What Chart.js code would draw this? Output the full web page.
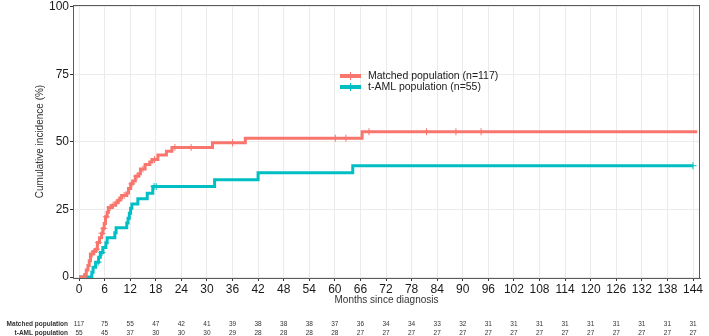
<!DOCTYPE html>
<html>
<head>
<meta charset="utf-8">
<script src="https://cdn.jsdelivr.net/npm/chart.js@4.4.1/dist/chart.umd.min.js"></script>
<style>
  html, body { margin: 0; padding: 0; background: #fff; }
</style>
</head>
<body>
<canvas id="km" width="709" height="336"></canvas>
<script>
// tick labels
const xTicks = [0, 6, 12, 18, 24, 30, 36, 42, 48, 54, 60, 66, 72, 78, 84, 90, 96, 102, 108, 114, 120, 126, 132, 138, 144];
const yTicks = [0, 25, 50, 75, 100];

// cumulative incidence steps, matched population (months, %)
const matchedT = [0, 1.4, 1.7, 2.1, 2.4, 2.7, 3.3, 3.9, 4.3, 4.8, 5.3, 5.6, 5.9, 6.2, 6.6, 6.9, 7.8, 8.6, 9.1, 9.6, 10.0, 11.2, 11.6, 12.1, 12.6, 13.2, 14.0, 14.4, 15.5, 16.6, 17.1, 18.5, 20.5, 21.8, 31.3, 39.0, 66.4, 145];
const matchedV = [0, 0.9, 2.6, 4.3, 6.0, 8.5, 9.4, 10.3, 12.8, 14.5, 16.2, 18.0, 19.8, 22.3, 24.0, 25.7, 26.6, 27.5, 28.4, 29.3, 30.2, 31.1, 32.8, 34.5, 35.6, 37.3, 38.2, 40.0, 41.7, 42.6, 43.5, 45.2, 46.6, 48.0, 49.7, 51.4, 53.8, 53.8];
const matchedCensor = [1.1, 3.1, 3.6, 4.1, 4.6, 5.4, 5.8, 6.4, 7.3, 8.0, 9.4, 10.6, 12.4, 13.6, 15.0, 17.7, 22.5, 26.3, 36.0, 60.1, 62.6, 68.0, 81.5, 88.4, 94.3];

// cumulative incidence steps, t-AML population
const amlT = [0, 3.0, 3.3, 3.9, 4.6, 5.0, 5.6, 6.3, 6.6, 8.4, 8.7, 11.2, 11.5, 11.8, 12.1, 12.4, 13.8, 16.0, 17.3, 31.8, 42.0, 64.2, 144];
const amlV = [0, 1.8, 3.6, 5.5, 7.3, 9.1, 10.9, 12.7, 14.5, 16.4, 18.2, 20.0, 21.8, 23.6, 25.5, 27.0, 29.0, 31.0, 33.5, 36.0, 38.6, 41.2, 41.2];
const amlCensor = [4.5, 5.4, 17.6, 18.1, 144];

// number at risk
const matchedRisk = [117, 75, 55, 47, 42, 41, 39, 38, 38, 38, 37, 36, 34, 34, 33, 32, 31, 31, 31, 31, 31, 31, 31, 31, 31];
const amlRisk = [55, 45, 37, 30, 30, 30, 29, 28, 28, 28, 28, 27, 27, 27, 27, 27, 27, 27, 27, 27, 27, 27, 27, 27, 27];

const RED = '#F8766D';
const TEAL = '#00BFC4';
const FONT = "'Liberation Sans', Arial, sans-serif";

function stepAt(ts, vs, t) {
  let v = vs[0];
  for (let i = 0; i < ts.length; i++) if (ts[i] <= t) v = vs[i];
  return v;
}
const pts = (ts, vs) => ts.map((t, i) => ({x: t, y: vs[i]}));
const censorPts = (cs, ts, vs) => cs.map(t => ({x: t, y: stepAt(ts, vs, t)}));

const extras = {
  id: 'extras',
  afterDraw(chart) {
    const {ctx, chartArea: a, scales: {x}} = chart;
    ctx.save();
    // panel border
    ctx.strokeStyle = '#5a5a5a';
    ctx.lineWidth = 1;
    ctx.strokeRect(a.left + 0.5, a.top + 0.5, a.right - a.left - 1, a.bottom - a.top);

    // axis titles
    ctx.fillStyle = '#333';
    ctx.font = '10px ' + FONT;
    ctx.textAlign = 'center';
    ctx.textBaseline = 'middle';
    ctx.fillText('Months since diagnosis', (a.left + a.right) / 2, 300);
    ctx.save();
    ctx.translate(40, (a.top + a.bottom) / 2);
    ctx.rotate(-Math.PI / 2);
    ctx.fillText('Cumulative incidence (%)', 0, 0);
    ctx.restore();

    // legend
    const items = [['Matched population (n=117)', RED, 76], ['t-AML population (n=55)', TEAL, 87]];
    items.forEach(([label, col, y]) => {
      ctx.strokeStyle = col;
      ctx.lineWidth = 4;
      ctx.beginPath(); ctx.moveTo(340, y); ctx.lineTo(361, y); ctx.stroke();
      ctx.lineWidth = 1;
      ctx.beginPath(); ctx.moveTo(350.5, y - 4); ctx.lineTo(350.5, y + 4); ctx.stroke();
      ctx.fillStyle = '#222';
      ctx.font = '10.5px ' + FONT;
      ctx.textAlign = 'left';
      ctx.fillText(label, 368, y);
    });

    // risk table
    ctx.font = 'bold 6.5px ' + FONT;
    ctx.fillStyle = '#333';
    ctx.textAlign = 'right';
    ctx.fillText('Matched population', 68, 324);
    ctx.fillText('t-AML population', 68, 333);
    ctx.textAlign = 'center';
    ctx.font = '6.5px ' + FONT;
    xTicks.forEach((t, i) => {
      const px = x.getPixelForValue(t);
      ctx.fillText(String(matchedRisk[i]), px, 324);
      ctx.fillText(String(amlRisk[i]), px, 333);
    });
    ctx.restore();
  }
};

new Chart(document.getElementById('km'), {
  type: 'line',
  data: {
    datasets: [
      {data: pts(amlT, amlV), borderColor: TEAL, borderWidth: 3, stepped: 'before', pointRadius: 0, fill: false, order: 4},
      {data: pts(matchedT, matchedV), borderColor: RED, borderWidth: 3, stepped: 'before', pointRadius: 0, fill: false, order: 3},
      {type: 'scatter', data: censorPts(amlCensor, amlT, amlV), pointStyle: 'cross', pointRadius: 3.5, borderWidth: 1, borderColor: TEAL, order: 2},
      {type: 'scatter', data: censorPts(matchedCensor, matchedT, matchedV), pointStyle: 'cross', pointRadius: 3.5, borderWidth: 1, borderColor: RED, order: 1}
    ]
  },
  options: {
    responsive: false,
    animation: false,
    devicePixelRatio: 1,
    layout: {padding: {top: 3, right: 9, bottom: 30, left: 0}},
    plugins: {legend: {display: false}, tooltip: {enabled: false}},
    scales: {
      x: {
        type: 'linear',
        min: -1.41,
        max: 145.64,
        afterBuildTicks: s => { s.ticks = xTicks.map(v => ({value: v})); },
        afterFit: s => { s.height = 28; s.paddingLeft = 0; s.paddingRight = 0; },
        ticks: {color: '#1a1a1a', font: {size: 12, family: FONT}, padding: 1, maxRotation: 0, autoSkip: false},
        grid: {color: '#EBEBEB', tickColor: '#333', tickLength: 3},
        border: {color: '#5a5a5a', width: 1}
      },
      y: {
        min: -0.37,
        max: 100.74,
        afterBuildTicks: s => { s.ticks = yTicks.map(v => ({value: v})); },
        afterFit: s => { s.width = 73; s.paddingTop = 0; s.paddingBottom = 0; },
        ticks: {color: '#1a1a1a', font: {size: 12, family: FONT}, padding: 1},
        grid: {color: '#EBEBEB', tickColor: '#333', tickLength: 3},
        border: {color: '#5a5a5a', width: 1}
      }
    }
  },
  plugins: [extras]
});
</script>
</body>
</html>
